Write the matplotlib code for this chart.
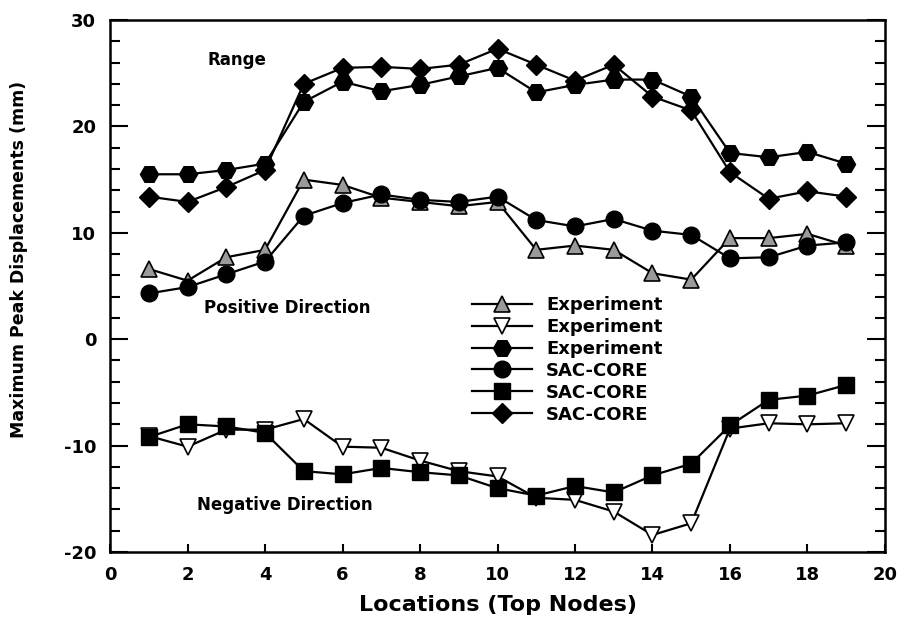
import matplotlib
matplotlib.use("Agg")
import matplotlib.pyplot as plt
from matplotlib.ticker import MultipleLocator

plt.rcParams["font.family"] = ["DejaVu Sans"]
plt.rcParams["font.weight"] = "bold"
plt.rcParams["axes.unicode_minus"] = False

# node locations
nodes = list(range(1, 19 + 1))

# positive direction
pos_exp = [6.6, 5.5, 7.7, 8.4, 15.0, 14.5, 13.3, 12.9, 12.5, 12.9,
           8.4, 8.8, 8.4, 6.2, 5.6, 9.5, 9.5, 9.9, 8.8]
pos_sac = [4.3, 4.9, 6.1, 7.3, 11.6, 12.8, 13.6, 13.1, 12.9, 13.4,
           11.2, 10.6, 11.3, 10.2, 9.8, 7.6, 7.7, 8.8, 9.1]

# negative direction
neg_exp = [-9.1, -10.1, -8.5, -8.5, -7.5, -10.1, -10.2, -11.4, -12.4, -12.9,
           -14.9, -15.1, -16.2, -18.4, -17.3, -8.4, -7.9, -8.0, -7.9]
neg_sac = [-9.2, -8.0, -8.2, -8.8, -12.4, -12.7, -12.1, -12.5, -12.8, -14.0,
           -14.7, -13.8, -14.4, -12.8, -11.7, -8.1, -5.7, -5.3, -4.3]

# range
rng_exp = [15.5, 15.5, 15.9, 16.5, 22.3, 24.2, 23.3, 23.9, 24.7, 25.5,
           23.2, 23.9, 24.4, 24.4, 22.8, 17.5, 17.1, 17.6, 16.5]
rng_sac = [13.4, 12.9, 14.3, 15.9, 24.0, 25.5, 25.6, 25.4, 25.8, 27.3,
           25.8, 24.3, 25.8, 22.8, 21.5, 15.7, 13.2, 13.9, 13.4]

fig = plt.figure(figsize=(8.99, 6.21), dpi=100)
ax = fig.add_axes([0.1224, 0.1111, 0.862, 0.8567])

lw = 1.6
ax.plot(nodes, pos_exp, color="black", lw=lw, marker="^", ms=12,
        mfc="#9a9a9a", mec="black", mew=1.2, label="Experiment")
ax.plot(nodes, neg_exp, color="black", lw=lw, marker="v", ms=12,
        mfc="white", mec="black", mew=1.2, label="Experiment")
ax.plot(nodes, rng_exp, color="black", lw=lw, marker="H", ms=13,
        mfc="black", mec="black", label="Experiment")
ax.plot(nodes, pos_sac, color="black", lw=lw, marker="o", ms=12,
        mfc="black", mec="black", label="SAC-CORE")
ax.plot(nodes, neg_sac, color="black", lw=lw, marker="s", ms=11,
        mfc="black", mec="black", label="SAC-CORE")
ax.plot(nodes, rng_sac, color="black", lw=lw, marker="D", ms=10,
        mfc="black", mec="black", label="SAC-CORE")

ax.set_xlim(0, 20)
ax.set_ylim(-20, 30)
ax.xaxis.set_major_locator(MultipleLocator(2))
ax.yaxis.set_major_locator(MultipleLocator(10))
ax.yaxis.set_minor_locator(MultipleLocator(2))

ax.tick_params(axis="y", which="major", direction="in", length=13, width=1.5,
               left=True, right=True, labelsize=13, pad=10)
ax.tick_params(axis="y", which="minor", direction="in", length=7, width=1.5,
               left=True, right=True)
ax.tick_params(axis="x", which="major", direction="in", length=6, width=1.5,
               bottom=True, top=False, labelsize=13, pad=10)
for s in ax.spines.values():
    s.set_linewidth(1.8)

ax.set_xlabel("Locations (Top Nodes)", fontsize=16, fontweight="bold", labelpad=8)
ax.set_ylabel("Maximum Peak Displacements (mm)", fontsize=12.5, fontweight="bold")
ax.yaxis.set_label_coords(-0.106, 0.55)

ax.text(3.28, 26.2, "Range", fontsize=12, fontweight="bold", ha="center", va="center")
ax.text(4.57, 2.9, "Positive Direction", fontsize=12, fontweight="bold",
        ha="center", va="center")
ax.text(4.5, -15.6, "Negative Direction", fontsize=12, fontweight="bold",
        ha="center", va="center")

ax.legend(loc="upper left", bbox_to_anchor=(0.458, 0.495), frameon=False,
          fontsize=13, handlelength=3.3, handletextpad=0.8, labelspacing=0.22,
          numpoints=1, borderaxespad=0)

fig.savefig("out.png", dpi=100)
